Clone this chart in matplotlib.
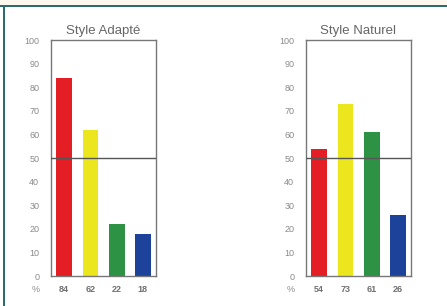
import matplotlib
matplotlib.use("Agg")
import matplotlib.pyplot as plt
from matplotlib.patches import Rectangle
from matplotlib.transforms import blended_transform_factory

plt.rcParams['font.family'] = ['Liberation Sans', 'DejaVu Sans']

categories = ["Rouge", "Jaune", "Vert", "Bleu"]
titles = ["Style Adapté", "Style Naturel"]
values_adapte = [84, 62, 22, 18]
values_naturel = [54, 73, 61, 26]
colors = ["#E31E24", "#ECE61E", "#2E9245", "#1C4399"]
yticks = [0, 10, 20, 30, 40, 50, 60, 70, 80, 90, 100]

W, H = 447, 306
fig = plt.figure(figsize=(W / 100, H / 100), dpi=100)
fig.patch.set_facecolor("white")

# decorative frame
fig.patches.append(Rectangle((0, 1 - 5 / H), 1, 5 / H, transform=fig.transFigure,
                             facecolor="#FDF7EE", edgecolor="none", zorder=0))
fig.patches.append(Rectangle((0, 1 - 7 / H), 1, 2.2 / H, transform=fig.transFigure,
                             facecolor="#2E6B70", edgecolor="none", zorder=1))
fig.patches.append(Rectangle((3 / W, 0), 2.2 / W, 1 - 5 / H, transform=fig.transFigure,
                             facecolor="#2E6B70", edgecolor="none", zorder=1))

grey_text = "#8a8a8a"
spine_col = "#777777"

def draw(left_px, title, vals):
    ax = fig.add_axes([left_px / W, 1 - 276 / H, 105 / W, (276 - 40) / H])
    x = list(range(len(vals)))
    ax.bar(x, vals, width=0.6, color=colors, edgecolor="none", zorder=2)
    ax.axhline(50, color="#555555", lw=1.0, zorder=3)
    ax.set_xlim(-0.5, len(vals) - 0.5)
    ax.set_ylim(0, 100)
    ax.set_yticks(yticks)
    ax.set_yticklabels([str(t) for t in yticks], color=grey_text, fontsize=6.5)
    ax.set_xticks(x)
    ax.set_xticklabels([str(v) for v in vals], color="#707070", fontsize=6.5,
                       fontweight="bold")
    ax.tick_params(axis="y", length=0, pad=8.5)
    ax.tick_params(axis="x", length=0, pad=6.5)
    for s in ax.spines.values():
        s.set_color(spine_col)
        s.set_linewidth(1.0)
    ax.set_title(title, color="#666666", fontsize=9.5, pad=4)
    trans = blended_transform_factory(ax.transAxes, ax.transAxes)
    ax.text(-15 / 105, -14 / 236, "%", transform=trans, ha="center", va="center",
            color=grey_text, fontsize=6.5)
    return ax

draw(51, titles[0], values_adapte)
draw(306, titles[1], values_naturel)

fig.savefig("out.png", dpi=100, facecolor=fig.get_facecolor())
